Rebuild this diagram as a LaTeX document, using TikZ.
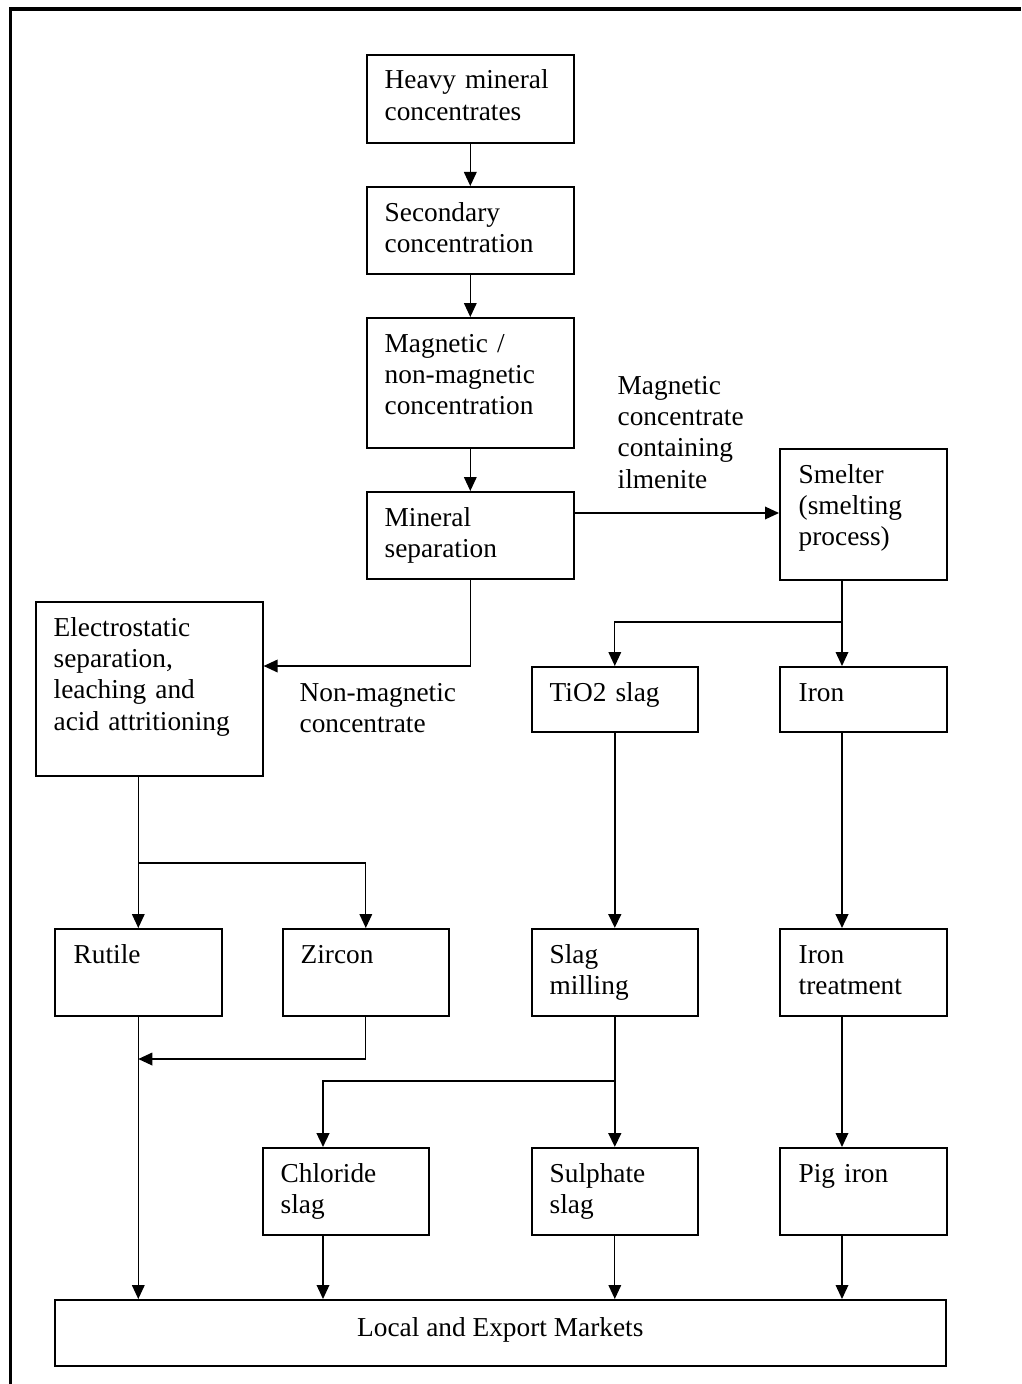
\documentclass[tikz,border=0pt]{standalone}
\usepackage{fontspec}
\setmainfont{Liberation Serif}
\usetikzlibrary{positioning, arrows.meta}

\begin{document}
\begin{tikzpicture}[x=0.75pt, y=-0.75pt, line width=1pt,
                >={Triangle[length=10.5pt,width=9.5pt]},
                stage/.style 2 args={draw, line width=1.2pt, anchor=north west, inner sep=0pt,
                                     minimum width=#1*0.75pt, minimum height=#2*0.75pt},
                txt/.style={anchor=base west, align=left, inner sep=0pt, text width=150pt,
                            font=\fontsize{20.5}{23.6}\selectfont},
                flow/.style={->},
                main flow/.style={->, line width=1.8pt}]

  \useasboundingbox (0,0) rectangle (1021,1384);
  \draw[line width=2.6pt] (10.5,1384) -- (10.5,9) -- (1021,9);

  % boxes
  \node[stage={207}{88}]  (heavy)    at (366,54)   {};
  \node[stage={207}{87}]  (second)   at (366,186)  {};
  \node[stage={207}{130}] (magnet)   at (366,317)  {};
  \node[stage={207}{87}]  (mineral)  at (366,491)  {};
  \node[stage={167}{131}] (smelter)  at (779,448)  {};
  \node[stage={166}{65}]  (tio)      at (531,666)  {};
  \node[stage={167}{65}]  (iron)     at (779,666)  {};
  \node[stage={227}{174}] (electro)  at (35,601)   {};
  \node[stage={167}{87}]  (rutile)   at (54,928)   {};
  \node[stage={166}{87}]  (zircon)   at (282,928)  {};
  \node[stage={166}{87}]  (slag)     at (531,928)  {};
  \node[stage={167}{87}]  (irontr)   at (779,928)  {};
  \node[stage={166}{87}]  (chloride) at (262,1147) {};
  \node[stage={166}{87}]  (sulphate) at (531,1147) {};
  \node[stage={167}{87}]  (pig)      at (779,1147) {};
  \node[stage={891}{66}]  (markets)  at (54,1299)  {};

  % texts
  \node[txt] (heavy-t)    at ([shift={(18,35)}]heavy.north west)    {Heavy mineral\\concentrates};
  \node[txt] (second-t)   at ([shift={(18,35)}]second.north west)   {Secondary\\concentration};
  \node[txt] (magnet-t)   at ([shift={(18,35)}]magnet.north west)   {Magnetic /\\non-magnetic\\concentration};
  \node[txt] (mineral-t)  at ([shift={(18,35)}]mineral.north west)  {Mineral\\separation};
  \node[txt] (smelter-t)  at ([shift={(19,35)}]smelter.north west)  {Smelter\\(smelting\\process)};
  \node[txt] (tio-t)      at ([shift={(18,35)}]tio.north west)      {TiO2 slag};
  \node[txt] (iron-t)     at ([shift={(19,35)}]iron.north west)     {Iron};
  \node[txt] (electro-t)  at ([shift={(18,35)}]electro.north west)  {Electrostatic\\separation,\\leaching and\\acid attritioning};
  \node[txt] (rutile-t)   at ([shift={(19,35)}]rutile.north west)   {Rutile};
  \node[txt] (zircon-t)   at ([shift={(18,35)}]zircon.north west)   {Zircon};
  \node[txt] (slag-t)     at ([shift={(18,35)}]slag.north west)     {Slag\\milling};
  \node[txt] (irontr-t)   at ([shift={(19,35)}]irontr.north west)   {Iron\\treatment};
  \node[txt] (chloride-t) at ([shift={(18,35)}]chloride.north west) {Chloride\\slag};
  \node[txt] (sulphate-t) at ([shift={(18,35)}]sulphate.north west) {Sulphate\\slag};
  \node[txt] (pig-t)      at ([shift={(19,35)}]pig.north west)      {Pig iron};
  \node[anchor=base, inner sep=0pt, font=\fontsize{20.5}{23.6}\selectfont] (markets-t)
       at ([shift={(0,37)}]markets.north) {Local and Export Markets};
  \node[txt] (magnote)    at (617,394) {Magnetic\\concentrate\\containing\\ilmenite};
  \node[txt] (nonmagnote) at (299,701) {Non-magnetic\\concentrate};

  % junctions
  \coordinate (magrow)  at (676,513);
  \coordinate (nmturn)  at (mineral.south |- 0,666);
  \coordinate (smsplit) at (842,622);
  \coordinate (elsplit) at (rutile.north |- 0,863);
  \coordinate (zrjoin)  at (rutile.south |- 0,1059);
  \coordinate (slsplit) at (slag.south |- 0,1081);
  \coordinate (clturn)  at (323,1081);

  % connectors
  \draw[flow] (heavy.south) -- (second.north);
  \draw[flow] (second.south) -- (magnet.north);
  \draw[flow] (magnet.south) -- (mineral.north);
  \draw[flow] (mineral.east |- magrow) -- (smelter.west |- magrow);
  \draw[flow] (mineral.south) -- (nmturn) -- (electro.east |- nmturn);
  \draw (smelter.south -| smsplit) -- (smsplit);
  \draw[flow] (smsplit) -- (iron.north -| smsplit);
  \draw[flow] (smsplit) -| (tio.north);
  \draw (electro.south -| elsplit) -- (elsplit);
  \draw[flow] (elsplit) -- (rutile.north);
  \draw[flow] (elsplit) -| (zircon.north);
  \draw[flow] (zircon.south) |- (zrjoin);
  \draw[flow] (rutile.south) -- (markets.north -| rutile.south);
  \draw[main flow] (tio.south) -- (slag.north);
  \draw[main flow] (iron.south -| smsplit) -- (irontr.north -| smsplit);
  \draw[line width=1.8pt] (slag.south) -- (slsplit);
  \draw[main flow] (slsplit) -- (sulphate.north);
  \draw[main flow] (slsplit) -- (clturn) -- (chloride.north -| clturn);
  \draw[flow] (irontr.south -| smsplit) -- (pig.north -| smsplit);
  \draw[flow] (chloride.south -| clturn) -- (markets.north -| clturn);
  \draw[flow] (sulphate.south) -- (markets.north -| sulphate.south);
  \draw[flow] (pig.south -| smsplit) -- (markets.north -| smsplit);
\end{tikzpicture}
\end{document}
